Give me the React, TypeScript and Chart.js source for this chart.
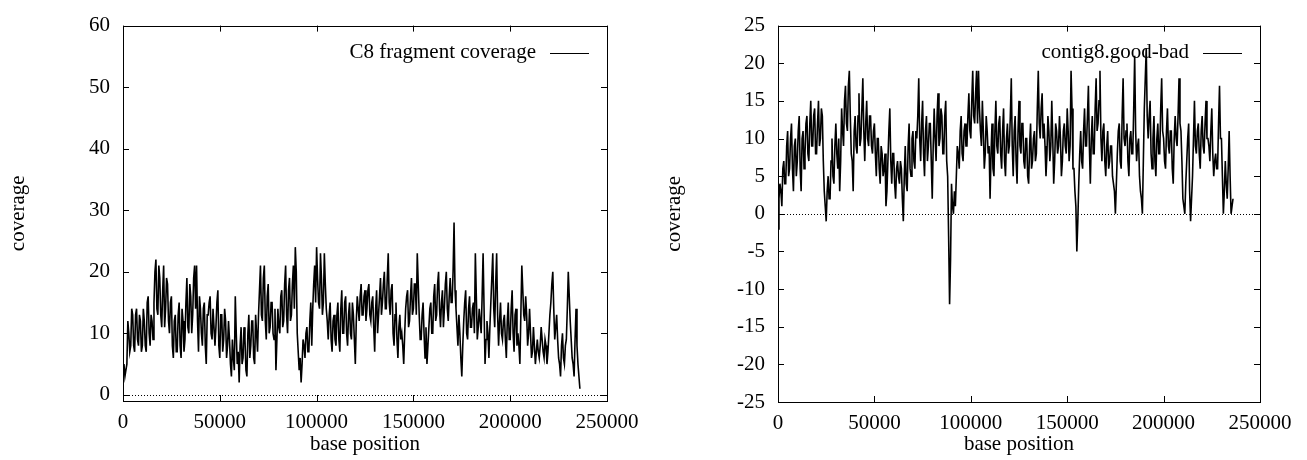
import React, { useEffect, useRef } from "react";
import { Chart, registerables } from "chart.js";

Chart.register(...registerables);

// base positions: samples every 1000 bases from 0, plus half-step samples at +500
const sampleStep = 1000;
const halfStep = 500;

// C8 fragment coverage (left panel), values at 0, 1000, 2000, ...
const fragmentCoverage = [
  4, 3, 5, 10, 8, 13, 7, 14, 8, 12,
  8, 12, 7, 16, 8, 12, 15, 22, 13, 19,
  11, 21, 14, 18, 10, 16, 6, 13, 7, 15,
  6, 12, 9, 19, 10, 16, 13, 21, 21, 7,
  14, 8, 15, 5, 13, 16, 9, 14, 11, 17,
  6, 13, 9, 12, 8, 9, 3, 6, 16, 5,
  2, 11, 6, 9, 3, 13, 8, 12, 5, 10,
  13, 21, 12, 21, 9, 18, 11, 15, 9, 4,
  14, 10, 17, 12, 21, 10, 19, 13, 21, 24,
  10, 4, 2, 9, 6, 11, 7, 15, 14, 21,
  24, 15, 23, 13, 23, 14, 9, 15, 7, 13,
  8, 15, 7, 17, 10, 16, 8, 15, 9, 13,
  5, 16, 12, 18, 13, 17, 14, 18, 12, 16,
  7, 17, 13, 19, 15, 20, 14, 23, 13, 18,
  8, 15, 6, 13, 10, 5, 14, 17, 12, 19,
  14, 18, 23, 13, 9, 15, 6, 5, 11, 15,
  10, 18, 13, 20, 11, 17, 14, 20, 12, 19,
  15, 28, 14, 8, 10, 3, 12, 17, 9, 16,
  11, 15, 23, 9, 14, 10, 23, 5, 12, 6,
  15, 23, 11, 23, 8, 15, 9, 13, 6, 15,
  9, 17, 7, 14, 10, 5, 21, 13, 16, 8,
  14, 6, 11, 5, 9, 6, 11, 7, 9, 5,
  10, 15, 20, 9, 13, 6, 3, 10, 5, 9,
  20, 12, 6, 3, 14, 5, 1,
];

// C8 fragment coverage, values at 500, 1500, 2500, ...
const fragmentCoverageMid = [
  5, 4, 12, 7, 14, 8, 13, 9, 13, 7,
  14, 8, 15, 10, 13, 9, 20, 14, 21, 13,
  17, 11, 19, 12, 15, 8, 12, 7, 13, 8,
  14, 7, 15, 11, 18, 10, 19, 14, 12, 16,
  10, 14, 8, 13, 15, 10, 14, 8, 15, 8,
  13, 7, 14, 6, 12, 5, 9, 4, 10, 7,
  8, 5, 11, 4, 10, 6, 12, 6, 13, 7,
  17, 13, 19, 12, 16, 10, 15, 10, 14, 9,
  11, 16, 11, 18, 13, 17, 12, 18, 14, 20,
  7, 6, 5, 8, 10, 7, 12, 8, 18, 15,
  19, 14, 19, 15, 18, 12, 13, 9, 12, 9,
  13, 9, 14, 10, 15, 10, 13, 10, 15, 9,
  12, 14, 16, 13, 16, 12, 17, 13, 15, 11,
  14, 10, 16, 13, 18, 14, 19, 15, 17, 10,
  13, 9, 11, 9, 8, 10, 16, 11, 16, 13,
  18, 13, 18, 9, 13, 10, 11, 8, 14, 10,
  16, 12, 18, 14, 15, 11, 18, 14, 16, 15,
  20, 17, 11, 13, 6, 8, 15, 10, 14, 11,
  14, 10, 16, 11, 12, 16, 14, 9, 10, 11,
  19, 14, 18, 13, 12, 10, 12, 9, 12, 9,
  14, 10, 13, 8, 8, 13, 17, 12, 13, 10,
  10, 7, 8, 7, 7, 8, 9, 6, 8, 7,
  13, 18, 14, 11, 9, 5, 8, 6, 8, 14,
  16, 9, 5, 9, 8, 3,
];

// contig8 good-bad (right panel), values at 0, 1000, 2000, ...
const goodMinusBad = [
  -2, 4, 1, 7, 4, 11, 6, 12, 3, 10,
  7, 13, 3, 11, 8, 13, 7, 15, 9, 14,
  8, 15, 10, 13, 3, -1, 5, 2, 10, 4,
  12, 6, 3, 14, 9, 17, 11, 19, 8, 3,
  13, 8, 16, 10, 18, 7, 15, 9, 13, 8,
  12, 5, 10, 4, 8, 6, 1, 7, 14, 4,
  8, 2, 7, 4, 6, -1, 9, 3, 12, 5,
  11, 6, 10, 18, 7, 15, 5, 13, 9, 12,
  2, 14, 7, 16, 10, 13, 8, 15, 5, -12,
  4, 0, 1, 9, 6, 13, 7, 12, 9, 16,
  10, 19, 12, 19, 19, 11, 15, 6, 13, 8,
  2, 12, 5, 15, 8, 13, 6, 14, 5, 12,
  9, 18, 5, 13, 4, 15, 8, 12, 6, 10,
  4, 12, 7, 11, 8, 19, 10, 16, 12, 5,
  13, 7, 15, 4, 12, 8, 13, 5, 11, 9,
  14, 7, 19, 6, 3, -5, 4, 11, 6, 14,
  9, 17, 4, 13, 8, 18, 12, 19, 7, 12,
  5, 11, 7, 9, 4, 0, 8, 12, 6, 18,
  9, 12, 5, 11, 8, 21, 7, 10, 3, 0,
  14, 22, 10, 15, 6, 13, 5, 12, 8, 18,
  10, 6, 14, 8, 11, 4, 13, 9, 18, 11,
  2, 0, 7, 12, -1, 5, 15, 8, 12, 6,
  13, 8, 15, 10, 7, 14, 5, 8, 6, 17,
  10, 0, 7, 2, 11, 0, 2,
];

// contig8 good-bad, values at 500, 1500, 2500, ...
const goodMinusBadMid = [
  2, 3, 6, 4, 9, 5, 10, 6, 9, 5,
  11, 6, 10, 6, 12, 8, 12, 9, 13, 8,
  12, 9, 14, 7, 1, 3, 2, 7, 5, 9,
  8, 10, 7, 11, 15, 12, 17, 13, 7, 11,
  9, 13, 9, 14, 11, 12, 10, 13, 9, 11,
  8, 10, 6, 9, 5, 8, 3, 11, 7, 8,
  4, 6, 5, 7, 2, 5, 4, 9, 6, 10,
  7, 11, 13, 10, 12, 8, 11, 7, 12, 7,
  9, 10, 13, 9, 14, 8, 13, 7, -3, -6,
  1, 3, 5, 8, 11, 8, 11, 9, 13, 11,
  15, 13, 16, 12, 14, 9, 11, 8, 11, 9,
  8, 6, 11, 9, 12, 8, 11, 7, 10, 8,
  13, 9, 11, 7, 11, 9, 12, 7, 10, 5,
  9, 6, 10, 7, 14, 12, 14, 10, 9, 8,
  11, 9, 10, 7, 11, 9, 10, 7, 12, 8,
  11, 9, 14, 6, 1, -1, 8, 7, 11, 9,
  13, 9, 10, 8, 14, 11, 15, 10, 11, 7,
  9, 6, 9, 5, 3, 4, 11, 7, 13, 10,
  11, 7, 10, 8, 14, 11, 9, 5, 2, 7,
  18, 13, 13, 8, 10, 7, 10, 8, 14, 11,
  7, 11, 9, 11, 6, 10, 10, 13, 12, 7,
  1, 4, 10, 3, 2, 10, 9, 11, 8, 11,
  9, 12, 10, 9, 11, 8, 7, 6, 12, 10,
  5, 3, 4, 6, 5, 1,
];

const xTicks = [0, 50000, 100000, 150000, 200000, 250000];
const leftYTicks = [0, 10, 20, 30, 40, 50, 60];
const rightYTicks = [-25, -20, -15, -10, -5, 0, 5, 10, 15, 20, 25];

const leftLegend = "C8 fragment coverage";
const rightLegend = "contig8.good-bad";
const xTitle = "base position";
const yTitle = "coverage";

const FONT = "'Liberation Serif', 'DejaVu Serif', serif";
const FONT_SIZE = 21;

const gnuplotFrame = {
  id: "gnuplotFrame",
  beforeDatasetsDraw(chart: any) {
    const { ctx, chartArea } = chart;
    const y0 = chart.scales.y.getPixelForValue(0);
    ctx.save();
    ctx.strokeStyle = "#000";
    ctx.lineWidth = 1;
    ctx.setLineDash([1, 2]);
    ctx.beginPath();
    ctx.moveTo(chartArea.left, Math.round(y0) + 0.5);
    ctx.lineTo(chartArea.right, Math.round(y0) + 0.5);
    ctx.stroke();
    ctx.restore();
  },
  afterDraw(chart: any, _args: any, opts: any) {
    const { ctx, chartArea } = chart;
    const { left, right, top, bottom } = chartArea;
    const tl = 6;
    ctx.save();
    ctx.strokeStyle = "#000";
    ctx.lineWidth = 1;
    ctx.setLineDash([]);
    ctx.beginPath();
    chart.scales.x.ticks.forEach((t: any) => {
      const px = Math.round(chart.scales.x.getPixelForValue(t.value)) + 0.5;
      ctx.moveTo(px, bottom);
      ctx.lineTo(px, bottom - tl);
      ctx.moveTo(px, top);
      ctx.lineTo(px, top + tl);
    });
    chart.scales.y.ticks.forEach((t: any) => {
      const py = Math.round(chart.scales.y.getPixelForValue(t.value)) + 0.5;
      ctx.moveTo(left, py);
      ctx.lineTo(left + tl, py);
      ctx.moveTo(right, py);
      ctx.lineTo(right - tl, py);
    });
    ctx.stroke();
    ctx.strokeRect(Math.round(left) + 0.5, Math.round(top) + 0.5, Math.round(right - left), Math.round(bottom - top));
    // key
    const ly = top + 27;
    const lineEnd = right - 18;
    const lineStart = lineEnd - 39;
    ctx.beginPath();
    ctx.moveTo(lineStart, Math.round(ly) + 0.5);
    ctx.lineTo(lineEnd, Math.round(ly) + 0.5);
    ctx.stroke();
    ctx.fillStyle = "#000";
    ctx.font = `${FONT_SIZE}px ${FONT}`;
    ctx.textAlign = "right";
    ctx.textBaseline = "middle";
    ctx.fillText(opts.label, lineStart - 14, ly);
    ctx.restore();
  },
};

function buildPoints(main: number[], mid: number[]) {
  const pts: { x: number; y: number }[] = [];
  main.forEach((v, i) => {
    pts.push({ x: i * sampleStep, y: v });
    if (i < mid.length) pts.push({ x: i * sampleStep + halfStep, y: mid[i] });
  });
  return pts;
}

function makeConfig(main: number[], mid: number[], yTicks: number[], yMin: number, yMax: number, label: string, yWidth: number, xHeight: number, padRight: number, yTitlePad: number): any {
  const data = buildPoints(main, mid);
  const font = { family: FONT, size: FONT_SIZE };
  return {
    type: "line",
    data: {
      datasets: [
        {
          label,
          data,
          borderColor: "#000",
          borderWidth: 1.6,
          pointRadius: 0,
          fill: false,
          tension: 0,
        },
      ],
    },
    options: {
      animation: false,
      responsive: false,
      maintainAspectRatio: false,
      events: [],
      layout: { padding: { left: 0, top: 15, right: padRight, bottom: 0 } },
      plugins: {
        legend: { display: false },
        tooltip: { enabled: false },
        gnuplotFrame: { label },
      },
      scales: {
        x: {
          type: "linear",
          min: 0,
          max: 250000,
          grid: { display: false, drawTicks: false },
          border: { display: false },
          afterBuildTicks: (s: any) => {
            s.ticks = xTicks.map((v) => ({ value: v }));
          },
          afterFit: (s: any) => {
            s.height = xHeight;
          },
          ticks: {
            color: "#000",
            font,
            padding: 9,
            maxRotation: 0,
            autoSkip: false,
            callback: (v: any) => String(v),
          },
          title: {
            display: true,
            text: xTitle,
            color: "#000",
            font,
            padding: { top: 0, bottom: 3 },
          },
        },
        y: {
          type: "linear",
          min: yMin,
          max: yMax,
          grid: { display: false, drawTicks: false },
          border: { display: false },
          afterBuildTicks: (s: any) => {
            s.ticks = yTicks.map((v) => ({ value: v }));
          },
          afterFit: (s: any) => {
            s.width = yWidth;
          },
          ticks: {
            color: "#000",
            font,
            padding: 13,
            autoSkip: false,
            callback: (v: any) => String(v),
          },
          title: {
            display: true,
            text: yTitle,
            color: "#000",
            font,
            padding: { top: yTitlePad, bottom: 0 },
          },
        },
      },
    },
    plugins: [gnuplotFrame],
  };
}

export default function App() {
  const leftRef = useRef<HTMLCanvasElement>(null);
  const rightRef = useRef<HTMLCanvasElement>(null);

  useEffect(() => {
    const c1 = new Chart(leftRef.current as HTMLCanvasElement, makeConfig(fragmentCoverage, fragmentCoverageMid, leftYTicks, -1, 60, leftLegend, 123, 59, 46, 6));
    const c2 = new Chart(rightRef.current as HTMLCanvasElement, makeConfig(goodMinusBad, goodMinusBadMid, rightYTicks, -25, 25, rightLegend, 125, 58, 47, 9));
    return () => {
      c1.destroy();
      c2.destroy();
    };
  }, []);

  return (
    <div style={{ position: "absolute", left: 0, top: 0, width: 1307, height: 460, background: "#fff" }}>
      <canvas ref={leftRef} width={653} height={460} style={{ position: "absolute", left: 0, top: 0, width: 653, height: 460 }} />
      <canvas ref={rightRef} width={654} height={460} style={{ position: "absolute", left: 653, top: 0, width: 654, height: 460 }} />
    </div>
  );
}
